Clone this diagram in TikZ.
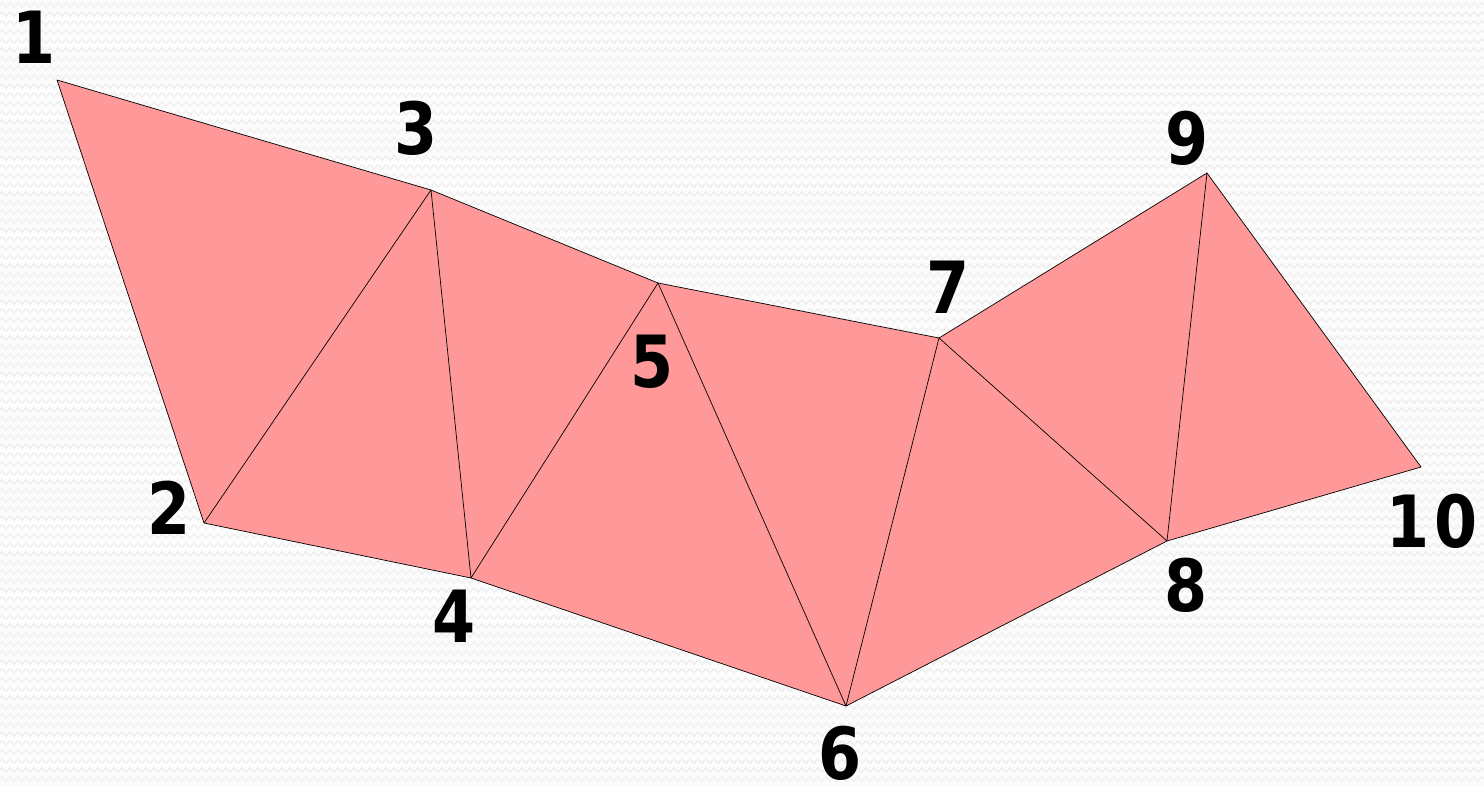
\documentclass[tikz,border=0pt]{standalone}
\usepackage{fontspec}
\usepackage{graphicx}
\newfontfamily\labfont{DejaVu Sans}
\usetikzlibrary{decorations.pathmorphing}
\definecolor{stripfill}{RGB}{255,153,153}
\definecolor{bgpaper}{RGB}{252,252,252}
\definecolor{bgwave}{RGB}{238,238,238}
\newcommand{\narrowdigit}[1]{\scalebox{0.86}[1]{#1}}
\tikzset{
  vlabel/.style={font=\labfont\bfseries\fontsize{72}{72}\selectfont, inner sep=0pt, text=black},
  edge/.style={draw=black, line width=0.7pt, line join=round},
  wave/.style={draw=bgwave, line width=1.2pt, decorate, decoration={zigzag, segment length=8pt, amplitude=2.2pt}}
}
\begin{document}
\begin{tikzpicture}[x=1pt,y=-1pt]
\useasboundingbox (0,0) rectangle (1484,786);
\fill[bgpaper] (0,0) rectangle (1484,786);
\foreach \r in {0,...,88} {
  \path[wave] (-8,{5+9*\r}) -- (1492,{5+9*\r});
}
% vertices
\coordinate (v1) at (57,80);
\coordinate (v2) at (204,523);
\coordinate (v3) at (431,190);
\coordinate (v4) at (471,578);
\coordinate (v5) at (658,283);
\coordinate (v6) at (846,706);
\coordinate (v7) at (939,338);
\coordinate (v8) at (1167,541);
\coordinate (v9) at (1207,173);
\coordinate (v10) at (1421,467);
% strip
\fill[stripfill] (v1) -- (v3) -- (v5) -- (v7) -- (v9) -- (v10) -- (v8) -- (v6) -- (v4) -- (v2) -- cycle;
\draw[edge] (v1) -- (v3) -- (v5) -- (v7) -- (v9) -- (v10) -- (v8) -- (v6) -- (v4) -- (v2) -- cycle;
\draw[edge] (v2) -- (v3) -- (v4) -- (v5) -- (v6) -- (v7) -- (v8) -- (v9);
% labels
\node[vlabel] (l1) at (34,37) {\narrowdigit{1}};
\node[vlabel] (l2) at (169,508) {\narrowdigit{2}};
\node[vlabel] (l3) at (416,128) {\narrowdigit{3}};
\node[vlabel] (l4) at (454,616) {\narrowdigit{4}};
\node[vlabel] (l5) at (652,362) {\narrowdigit{5}};
\node[vlabel] (l6) at (840,753) {\narrowdigit{6}};
\node[vlabel] (l7) at (948,287) {\narrowdigit{7}};
\node[vlabel] (l8) at (1186,585) {\narrowdigit{8}};
\node[vlabel] (l9) at (1187,138) {\narrowdigit{9}};
\node[vlabel] (l10) at (1432,521) {\narrowdigit{1}\kern4pt\narrowdigit{0}};
\end{tikzpicture}
\end{document}
